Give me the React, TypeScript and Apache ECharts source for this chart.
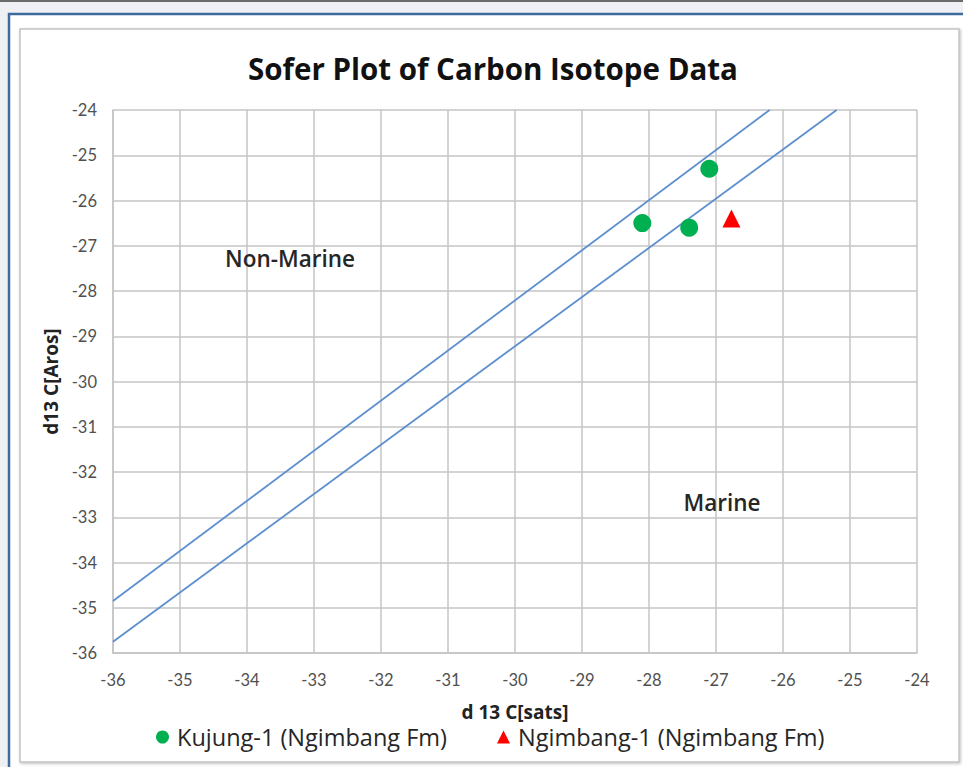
import React, { useEffect, useRef } from "react";
import * as echarts from "echarts";

const title = "Sofer Plot of Carbon Isotope Data";
const xAxisName = "d 13 C[sats]";
const yAxisName = "d13 C[Aros]";
const axisMin = -36;
const axisMax = -24;

const kujungName = "Kujung-1 (Ngimbang Fm)";
const kujungPoints: [number, number][] = [
  [-27.1, -25.3],
  [-28.1, -26.5],
  [-27.4, -26.6],
];

const ngimbangName = "Ngimbang-1 (Ngimbang Fm)";
const ngimbangPoints: [number, number][] = [[-26.77, -26.4]];

const soferUpper: [number, number][] = [
  [-36, -34.85],
  [-26.2, -24],
];
const soferLower: [number, number][] = [
  [-36, -35.75],
  [-25.2, -24],
];

const regionLabels = ["Non-Marine", "Marine"];

const FONT = "'Open Sans', Lato, sans-serif";
const TICKFONT = "Lato, 'Open Sans', sans-serif";

export default function App() {
  const ref = useRef<HTMLDivElement>(null);

  useEffect(() => {
    if (!ref.current) return;
    const chart = echarts.init(ref.current, undefined, { renderer: "svg" });
    const gridColor = "#c4c4c4";
    chart.setOption({
      animation: false,
      backgroundColor: "#eef0f3",
      textStyle: { fontFamily: FONT },
      graphic: [
        { type: "rect", z: -10, shape: { x: 0, y: 0, width: 963, height: 2 }, style: { fill: "#6b6b6b" } },
        {
          type: "rect",
          z: -10,
          shape: { x: 9, y: 14, width: 980, height: 780 },
          style: { fill: "#ffffff", stroke: "#3f6a9e", lineWidth: 2.5 },
        },
        {
          type: "rect",
          z: -9,
          shape: { x: 20, y: 29, width: 939, height: 733 },
          style: {
            fill: "#ffffff",
            stroke: "#c2c2c2",
            lineWidth: 1.5,
            shadowColor: "rgba(0,0,0,0.25)",
            shadowBlur: 3,
            shadowOffsetX: 1,
            shadowOffsetY: 1,
          },
        },
        {
          type: "text",
          z: 10,
          x: 290,
          y: 258,
          style: {
            text: regionLabels[0],
            font: `600 22.5px ${FONT}`,
            fill: "#262626",
            align: "center",
            verticalAlign: "middle",
          },
        },
        {
          type: "text",
          z: 10,
          x: 722,
          y: 502,
          style: {
            text: regionLabels[1],
            font: `600 22.5px ${FONT}`,
            fill: "#262626",
            align: "center",
            verticalAlign: "middle",
          },
        },
      ],
      title: {
        text: title,
        left: 488,
        textAlign: "center",
        top: 48,
        textStyle: { fontFamily: FONT, fontSize: 29.5, fontWeight: "bold", color: "#111" },
      },
      grid: { left: 113, top: 110, width: 804, height: 543 },
      xAxis: {
        type: "value",
        min: axisMin,
        max: axisMax,
        interval: 1,
        name: xAxisName,
        nameLocation: "middle",
        nameGap: 49,
        nameTextStyle: { fontFamily: FONT, fontSize: 19, fontWeight: "bold", color: "#222" },
        axisLine: { show: true, lineStyle: { color: gridColor, width: 1.5 } },
        axisTick: { show: false },
        splitLine: { show: true, lineStyle: { color: gridColor, width: 1.5 } },
        axisLabel: { color: "#505050", fontSize: 16.5, margin: 18, fontFamily: TICKFONT },
      },
      yAxis: {
        type: "value",
        min: axisMin,
        max: axisMax,
        interval: 1,
        name: yAxisName,
        nameLocation: "middle",
        nameGap: 51,
        nameRotate: 90,
        nameTextStyle: { fontFamily: FONT, fontSize: 19, fontWeight: "bold", color: "#222" },
        axisLine: { show: true, lineStyle: { color: gridColor, width: 1.5 } },
        axisTick: { show: false },
        splitLine: { show: true, lineStyle: { color: gridColor, width: 1.5 } },
        axisLabel: { color: "#505050", fontSize: 16.5, margin: 16, fontFamily: TICKFONT },
      },
      legend: {
        bottom: 13,
        left: 151,
        width: 800,
        itemGap: 50,
        itemWidth: 13,
        itemHeight: 13,
        textStyle: { fontFamily: FONT, fontSize: 23.5, color: "#262626", padding: [0, 0, 0, 3] },
        data: [
          { name: kujungName, icon: "circle" },
          { name: ngimbangName, icon: "triangle" },
        ],
      },
      series: [
        {
          type: "line",
          name: "upper",
          data: soferUpper,
          symbol: "none",
          lineStyle: { color: "#5d8fcf", width: 1.8 },
          z: 3,
        },
        {
          type: "line",
          name: "lower",
          data: soferLower,
          symbol: "none",
          lineStyle: { color: "#5d8fcf", width: 1.8 },
          z: 3,
        },
        {
          type: "scatter",
          name: kujungName,
          data: kujungPoints,
          symbol: "circle",
          symbolSize: 18,
          itemStyle: { color: "#00b050", opacity: 1 },
          z: 5,
        },
        {
          type: "scatter",
          name: ngimbangName,
          data: ngimbangPoints,
          symbol: "triangle",
          symbolSize: 18,
          itemStyle: { color: "#ff0000", opacity: 1 },
          z: 5,
        },
      ],
    });
    return () => chart.dispose();
  }, []);

  return (
    <div
      ref={ref}
      style={{ position: "fixed", left: 0, top: 0, width: 963, height: 767 }}
    />
  );
}
